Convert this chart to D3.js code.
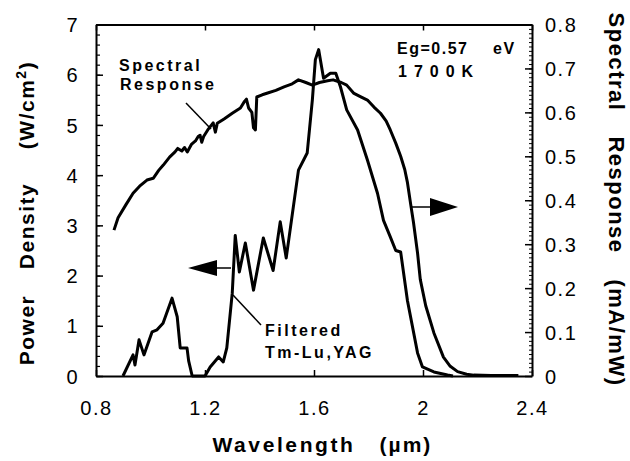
<!DOCTYPE html>
<html>
<head>
<meta charset="utf-8">
<script src="https://cdn.jsdelivr.net/npm/d3@7"></script>
<style>
  html, body { margin: 0; padding: 0; background: #fff; }
  svg { display: block; }
  text { font-family: "Liberation Sans", Arial, Helvetica, sans-serif; fill: #000; }
</style>
</head>
<body>
<svg id="chart" width="630" height="461"></svg>
<script>
// Wavelength ticks (µm)
const xTicks = [0.8, 1.2, 1.6, 2.0, 2.4];
const xTickLabels = ["0.8", "1.2", "1.6", "2", "2.4"];
// Left axis: power density ticks
const yLeftTicks = [0, 1, 2, 3, 4, 5, 6, 7];
const yLeftLabels = ["0", "1", "2", "3", "4", "5", "6", "7"];
// Right axis: spectral response ticks
const yRightTicks = [0, 0.1, 0.2, 0.3, 0.4, 0.5, 0.6, 0.7, 0.8];
const yRightLabels = ["0", "0.1", "0.2", "0.3", "0.4", "0.5", "0.6", "0.7", "0.8"];

// Spectral response of the cell (mA/mW) vs wavelength (µm)
const srWavelength = [0.866, 0.881, 0.91, 0.936, 0.96, 0.987, 1.01, 1.03, 1.047, 1.07, 1.09, 1.10, 1.115, 1.125, 1.135, 1.15, 1.165, 1.175, 1.182, 1.188, 1.195, 1.21, 1.23, 1.238, 1.245, 1.27, 1.30, 1.33, 1.345, 1.352, 1.36, 1.372, 1.378, 1.385, 1.39, 1.41, 1.43, 1.46, 1.49, 1.52, 1.543, 1.57, 1.594, 1.62, 1.65, 1.67, 1.70, 1.72, 1.745, 1.77, 1.796, 1.82, 1.844, 1.865, 1.88, 1.90, 1.918, 1.933, 1.943, 1.955, 1.965, 1.98, 1.99, 2.01, 2.04, 2.075, 2.10, 2.127, 2.16, 2.186, 2.25, 2.35];
const srValue = [0.332, 0.36, 0.39, 0.416, 0.432, 0.446, 0.45, 0.468, 0.48, 0.498, 0.51, 0.518, 0.512, 0.52, 0.51, 0.527, 0.535, 0.545, 0.548, 0.532, 0.545, 0.56, 0.576, 0.555, 0.575, 0.585, 0.598, 0.61, 0.625, 0.63, 0.61, 0.6, 0.565, 0.56, 0.635, 0.64, 0.644, 0.65, 0.658, 0.665, 0.674, 0.668, 0.662, 0.668, 0.672, 0.674, 0.668, 0.662, 0.644, 0.636, 0.628, 0.612, 0.598, 0.58, 0.56, 0.53, 0.50, 0.47, 0.44, 0.39, 0.35, 0.28, 0.22, 0.16, 0.098, 0.043, 0.022, 0.01, 0.004, 0.002, 0.001, 0.001];

// Filtered Tm-Lu,YAG emitter power density (W/cm²) vs wavelength (µm)
const emWavelength = [0.899, 0.936, 0.943, 0.958, 0.976, 1.006, 1.024, 1.046, 1.079, 1.098, 1.109, 1.134, 1.14, 1.153, 1.20, 1.219, 1.25, 1.267, 1.28, 1.30, 1.311, 1.326, 1.348, 1.378, 1.414, 1.45, 1.476, 1.498, 1.543, 1.575, 1.594, 1.605, 1.617, 1.635, 1.66, 1.68, 1.697, 1.72, 1.76, 1.796, 1.833, 1.855, 1.88, 1.90, 1.918, 1.943, 1.98, 1.998, 2.04, 2.09, 2.11];
const emPower = [0, 0.42, 0.22, 0.72, 0.42, 0.88, 0.92, 1.05, 1.55, 1.18, 0.56, 0.56, 0.3, 0, 0, 0.18, 0.38, 0.28, 0.56, 1.65, 2.8, 2.07, 2.65, 1.71, 2.75, 2.1, 3.07, 2.35, 4.1, 4.44, 5.5, 6.3, 6.5, 5.93, 6.03, 6.03, 5.76, 5.3, 4.9, 4.3, 3.64, 3.1, 2.77, 2.5, 2.47, 1.5, 0.46, 0.18, 0.08, 0.02, 0];

const svg = d3.select("#chart");
const m = { left: 96, top: 24.5, right: 532, bottom: 376 };

const x = d3.scaleLinear().domain([0.8, 2.4]).range([m.left, m.right]);
const yL = d3.scaleLinear().domain([0, 7]).range([m.bottom, m.top]);
const yR = d3.scaleLinear().domain([0, 0.8]).range([m.bottom, m.top]);

const tickFont = g => g.selectAll("text")
  .style("font-size", "20px")
  .style("letter-spacing", "1.5px");
const axisStroke = g => {
  g.select(".domain").attr("stroke-width", 2);
  g.selectAll(".tick line").attr("stroke-width", 1.5);
};

// left axis: minor ticks every 0.2, major every 1, all pointing inward
svg.append("g").attr("transform", `translate(${m.left},0)`)
  .call(d3.axisLeft(yL).tickValues(d3.range(0, 7.001, 0.2)).tickSize(-4).tickSizeOuter(0).tickFormat(""))
  .call(g => g.select(".domain").remove())
  .call(g => g.selectAll(".tick line").attr("stroke-width", 1.2));
svg.append("g").attr("transform", `translate(${m.left},0)`)
  .call(d3.axisLeft(yL).tickValues(yLeftTicks).tickSize(-7).tickSizeOuter(0).tickPadding(17)
    .tickFormat((d, i) => yLeftLabels[i]))
  .call(g => g.selectAll("text").attr("dy", "0.36em"))
  .call(tickFont).call(axisStroke);

// right axis: minor ticks every 0.01, major every 0.1
svg.append("g").attr("transform", `translate(${m.right},0)`)
  .call(d3.axisRight(yR).tickValues(d3.range(0, 0.8001, 0.01)).tickSize(-3).tickSizeOuter(0).tickFormat(""))
  .call(g => g.select(".domain").remove())
  .call(g => g.selectAll(".tick line").attr("stroke-width", 1));
svg.append("g").attr("transform", `translate(${m.right},0)`)
  .call(d3.axisRight(yR).tickValues(yRightTicks).tickSize(-7).tickSizeOuter(0).tickPadding(13)
    .tickFormat((d, i) => yRightLabels[i]))
  .call(g => g.selectAll("text").attr("dy", "0.36em"))
  .call(tickFont).call(axisStroke);

// bottom axis
svg.append("g").attr("transform", `translate(0,${m.bottom})`)
  .call(d3.axisBottom(x).tickValues(xTicks).tickSize(-6).tickSizeOuter(0).tickPadding(25)
    .tickFormat((d, i) => xTickLabels[i]))
  .call(tickFont).call(axisStroke);

// top axis (ticks only)
svg.append("g").attr("transform", `translate(0,${m.top})`)
  .call(d3.axisTop(x).tickValues(xTicks).tickSize(-6).tickSizeOuter(0).tickFormat(""))
  .call(axisStroke);

// curves
const srLine = d3.line().x(d => x(d[0])).y(d => yR(d[1]));
const emLine = d3.line().x(d => x(d[0])).y(d => yL(d[1]));

svg.append("path")
  .datum(srWavelength.map((w, i) => [w, srValue[i]]))
  .attr("d", srLine).attr("fill", "none").attr("stroke", "#000")
  .attr("stroke-width", 3).attr("stroke-linejoin", "round");

svg.append("path")
  .datum(emWavelength.map((w, i) => [w, emPower[i]]))
  .attr("d", emLine).attr("fill", "none").attr("stroke", "#000")
  .attr("stroke-width", 3).attr("stroke-linejoin", "round");

// axis titles
const titleStyle = sel => sel.style("font-size", "21px").style("font-weight", "bold")
  .style("letter-spacing", "1.5px").attr("text-anchor", "middle");

svg.append("text").attr("x", 284).attr("y", 452).call(titleStyle)
  .style("letter-spacing", "2.6px").text("Wavelength");
svg.append("text").attr("x", 406).attr("y", 452).call(titleStyle)
  .style("letter-spacing", "2px").text("(\u00b5m)");

const leftTitle = svg.append("g").attr("transform", "translate(34,0) rotate(-90)");
leftTitle.append("text").attr("x", -330).attr("y", 0).call(titleStyle).text("Power");
leftTitle.append("text").attr("x", -226).attr("y", 0).call(titleStyle).text("Density");
const unitL = leftTitle.append("text").attr("x", -105).attr("y", 0).call(titleStyle);
unitL.append("tspan").text("(W/cm");
unitL.append("tspan").attr("dy", -8).style("font-size", "14px").text("2");
unitL.append("tspan").attr("dy", 8).text(")");

const rightTitle = svg.append("g").attr("transform", "translate(609,0) rotate(90)");
rightTitle.append("text").attr("x", 62).attr("y", 0).call(titleStyle).style("font-size", "22px").text("Spectral");
rightTitle.append("text").attr("x", 195).attr("y", 0).call(titleStyle).style("font-size", "22px").text("Response");
rightTitle.append("text").attr("x", 333).attr("y", 0).call(titleStyle).style("font-size", "22px").text("(mA/mW)");

// annotations
const noteStyle = sel => sel.style("font-size", "16px").style("font-weight", "bold")
  .style("letter-spacing", "2.5px");

svg.append("text").attr("x", 119).attr("y", 71).call(noteStyle).text("Spectral");
svg.append("text").attr("x", 120).attr("y", 90).call(noteStyle).text("Response");
svg.append("text").attr("x", 397).attr("y", 54).call(noteStyle)
  .style("letter-spacing", "1.5px").text("Eg=0.57");
svg.append("text").attr("x", 493).attr("y", 54).call(noteStyle)
  .style("letter-spacing", "1.5px").text("eV");
svg.append("text").attr("x", 398).attr("y", 77).call(noteStyle)
  .style("letter-spacing", "7px").text("1700K");
svg.append("text").attr("x", 265).attr("y", 336).call(noteStyle).text("Filtered");
svg.append("text").attr("x", 265).attr("y", 358).call(noteStyle).text("Tm-Lu,YAG");

// leader lines to curves
svg.append("line").attr("x1", 186).attr("y1", 103).attr("x2", 211).attr("y2", 129)
  .attr("stroke", "#000").attr("stroke-width", 1.5);
svg.append("line").attr("x1", 233).attr("y1", 295).attr("x2", 261).attr("y2", 325)
  .attr("stroke", "#000").attr("stroke-width", 1.5);

// axis-direction arrows
function arrow(xTail, xBase, xTip, yPos, half) {
  svg.append("line").attr("x1", xTail).attr("y1", yPos).attr("x2", xBase).attr("y2", yPos)
    .attr("stroke", "#000").attr("stroke-width", 1.5);
  svg.append("path")
    .attr("d", `M${xTip},${yPos} L${xBase},${yPos - half} L${xBase},${yPos + half} Z`)
    .attr("fill", "#000");
}
arrow(231, 217, 188, 268, 8);
arrow(410, 430, 458, 207, 9);
</script>
</body>
</html>
